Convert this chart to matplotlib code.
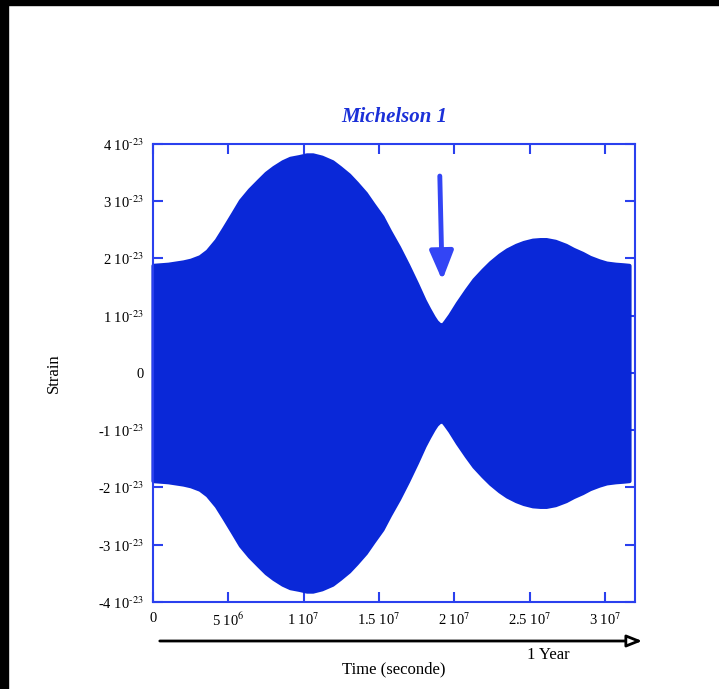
import numpy as np
import matplotlib
matplotlib.use("Agg")
import matplotlib.pyplot as plt
from matplotlib.patches import Rectangle, FancyArrowPatch

plt.rcParams['font.family'] = ['Liberation Serif', 'DejaVu Serif']
plt.rcParams['mathtext.fontset'] = 'stix'
plt.rcParams['axes.unicode_minus'] = False

# envelope of the strain signal
# time in units of 1e6 s, amplitude in units of 1e-23
t_env = [0, 1, 2, 2.5, 3.1, 3.6, 4.2, 4.7, 5.3, 5.8, 6.4, 7.0, 7.5, 8.0,
         8.6, 9.1, 9.7, 10.2, 10.6, 11.2, 11.9, 12.4, 13.0, 13.5, 14.1,
         14.6, 15.2, 15.7, 16.3, 16.9, 17.5, 18.0, 18.3, 18.6, 18.8, 19.0,
         19.1, 19.25, 19.4, 19.7, 20.2, 20.8, 21.3, 21.9, 22.4, 23.0, 23.5,
         24.1, 24.6, 25.2, 25.7, 26.1, 26.7, 27.4, 27.9, 28.5, 29.0, 29.6,
         30.1, 30.7, 31.2, 31.6]
a_env = [1.88, 1.90, 1.94, 1.97, 2.03, 2.13, 2.32, 2.53, 2.79, 3.01, 3.20,
         3.36, 3.49, 3.59, 3.69, 3.75, 3.78, 3.81, 3.81, 3.77, 3.69, 3.59,
         3.46, 3.32, 3.14, 2.95, 2.73, 2.48, 2.20, 1.89, 1.56, 1.27, 1.12,
         0.98, 0.90, 0.85, 0.83, 0.85, 0.90, 1.01, 1.22, 1.45, 1.63, 1.80,
         1.93, 2.06, 2.15, 2.23, 2.28, 2.32, 2.33, 2.33, 2.30, 2.23, 2.16,
         2.09, 2.02, 1.96, 1.92, 1.90, 1.89, 1.88]

xticks = [0, 5e6, 1e7, 1.5e7, 2e7, 2.5e7, 3e7]
xticklabels = ['0', r'5 10$^{6}$', r'1 10$^{7}$', r'1.5 10$^{7}$',
               r'2 10$^{7}$', r'2.5 10$^{7}$', r'3 10$^{7}$']
yticks = [-4e-23, -3e-23, -2e-23, -1e-23, 0, 1e-23, 2e-23, 3e-23, 4e-23]
yticklabels = [r'-4 10$^{\text{-23}}$', r'-3 10$^{\text{-23}}$',
               r'-2 10$^{\text{-23}}$', r'-1 10$^{\text{-23}}$', '0',
               r'1 10$^{\text{-23}}$', r'2 10$^{\text{-23}}$',
               r'3 10$^{\text{-23}}$', r'4 10$^{\text{-23}}$']

fill_col = '#0A28D8'
axis_col = '#2A40EE'
arrow_col = '#3345F5'

t = np.array(t_env) * 1e6
a = np.array(a_env) * 1e-23

fig = plt.figure(figsize=(7.19, 6.89), dpi=100)
ax = fig.add_axes([0.2128, 0.1263, 0.6704, 0.6647])

ax.fill_between(t, -a, a, color=fill_col, linewidth=3, edgecolor=fill_col,
                clip_on=False, zorder=2)

ax.set_xlim(0, 3.2e7)
ax.set_ylim(-4e-23, 4e-23)
ax.set_xticks(xticks)
ax.set_xticklabels(xticklabels)
ax.set_yticks(yticks)
ax.set_yticklabels(yticklabels)
ax.tick_params(direction='in', length=7, width=1.5, color=axis_col,
               top=True, right=True, labelsize=10.5, pad=7)
for s in ax.spines.values():
    s.set_color(axis_col)
    s.set_linewidth(1.5)
    s.set_zorder(3)

ax.set_title('Michelson 1', color='#1B30D8', fontsize=15,
             fontweight='bold', style='italic', pad=16)
ax.set_ylabel('Strain', fontsize=12, labelpad=26)

# arrow pointing at the minimum
ax.annotate('', xy=(1.92e7, 1.62e-23), xytext=(1.904e7, 3.44e-23),
            arrowprops=dict(arrowstyle='-|>,head_length=1.75,head_width=0.72',
                            color=arrow_col, lw=3.5, shrinkA=0, shrinkB=0))

# time arrow under the axis
arr = FancyArrowPatch((157 / 719, 1 - 641 / 689), (645 / 719, 1 - 641 / 689),
                      transform=fig.transFigure,
                      arrowstyle='-|>,head_length=0.65,head_width=0.26',
                      lw=2, ec='black', fc='white', mutation_scale=14)
fig.patches.append(arr)
fig.text(548 / 719, 1 - 655 / 689, '1 Year', ha='center', va='center',
         fontsize=12)
fig.text(394 / 719, 1 - 669 / 689, 'Time (seconde)', ha='center',
         va='center', fontsize=12)

# black frame on the top and left edges
fig.patches.append(Rectangle((0, 1 - 5 / 689), 1, 5 / 689,
                             transform=fig.transFigure, color='black'))
fig.patches.append(Rectangle((0, 0), 8 / 719, 1,
                             transform=fig.transFigure, color='black'))

fig.savefig('out.png', dpi=100)
